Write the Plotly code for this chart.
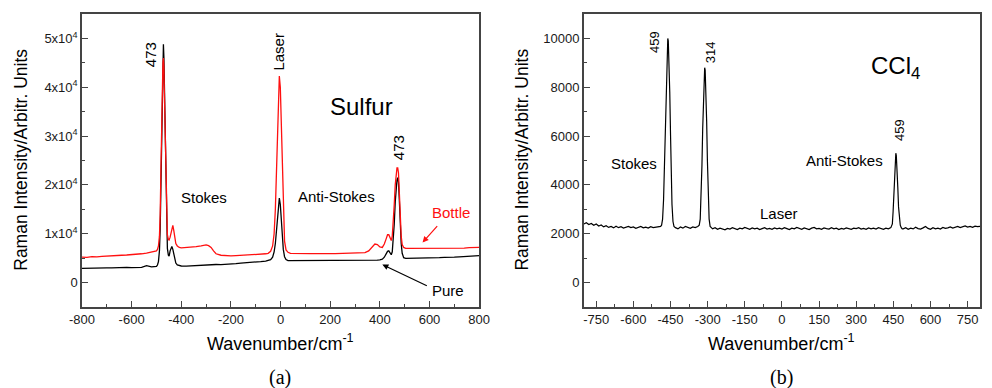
import plotly.graph_objects as go

# ---------------- data: (a) Sulfur ----------------
sulfur_x = (list(range(-800, -499, 20)) +
            [-496, -492, -488, -485, -482, -479, -476, -474, -472, -470, -468, -465, -462,
             -459, -456, -452, -449, -445, -441, -438, -434, -430, -426, -422, -416, -408] +
            [-400, -380, -360, -340, -320, -300, -290, -280, -270, -260, -240, -220, -200,
             -180, -160, -140, -120, -100, -80, -60] +
            [-50, -40, -32, -26, -21, -17, -13, -9, -5, -1, 3, 7, 11, 16, 22, 30] +
            list(range(40, 341, 20)) +
            [355, 370, 380, 390, 400, 410, 418, 425, 431, 436, 441, 446, 450, 454, 458, 462,
             466, 469, 472, 475, 478, 482, 486, 490, 496, 504] +
            list(range(520, 801, 20)))

pure_y = ([2900, 2950, 2880, 3000, 2960, 3020, 3000, 3060, 3030, 3100, 3080, 3150, 3120, 3450, 3200, 3300] +
          [3600, 4300, 6500, 11000, 22000, 33000, 43000, 47500, 48800, 46000, 40000, 30000, 20000,
           11000, 7000, 5600, 5400, 6500, 7200, 7400, 6800, 5600, 4600, 4000, 3600, 3450] +
          [3400, 3350, 3420, 3480, 3450, 3550, 3600, 3580, 3650, 3700, 3680, 3800, 3850,
           3900, 4000, 4050, 4150, 4200, 4300, 4400] +
          [4500, 4700, 5200, 6300, 8000, 10500, 13500, 16500, 17300, 16000, 12500, 9000, 6800, 5300, 4700, 4500] +
          [4500, 4450, 4520, 4480, 4500, 4550, 4470, 4500, 4530, 4480, 4510, 4470, 4520, 4550, 4500, 4530] +
          [4550, 4500, 4550, 4600, 4650, 4800, 5200, 5900, 6400, 6500, 6100, 5700, 6300, 8500, 12000, 16500,
           19500, 21000, 21500, 20500, 17500, 12000, 8000, 6000, 5100, 4950] +
          [4950, 5000, 4980, 5050, 5000, 5080, 5100, 5150, 5120, 5200, 5250, 5300, 5350, 5400, 5500])

bottle_y = ([5200, 5150, 5300, 5250, 5380, 5400, 5500, 5480, 5600, 5650, 5700, 5850, 5900, 6050, 6250, 6500] +
            [6800, 7500, 9500, 14000, 23000, 33000, 41000, 45000, 46000, 44000, 38500, 30000, 21000,
             13500, 9800, 8800, 8700, 9300, 10500, 11300, 11700, 10600, 9000, 8000, 7500, 7200] +
            [7100, 7150, 7300, 7350, 7500, 7700, 7550, 7200, 6500, 5900, 5600, 5500, 5450,
             5500, 5550, 5600, 5650, 5700, 5800, 5900] +
            [6000, 6400, 7500, 10000, 15000, 22000, 30000, 38000, 42300, 40000, 32000, 22000, 13500, 8500, 6700, 6200] +
            [6000, 5950, 5980, 5900, 5950, 5920, 5980, 5900, 5950, 5930, 5970, 5900, 5950, 6000, 6050, 6150] +
            [6500, 7300, 7900, 7800, 7300, 7200, 7900, 8900, 9800, 9800, 9000, 8600, 9500, 12000, 16000, 20000,
             22500, 23500, 23500, 22500, 19000, 13500, 9500, 7800, 7200, 7000] +
            [7000, 7050, 6950, 7000, 6980, 7050, 7000, 7100, 7020, 7050, 7100, 7050, 7150, 7100, 7200])

# ---------------- data: (b) CCl4 ----------------
ccl4_x = (list(range(-800, -489, 10)) +
          [-486, -482, -478, -475, -472, -469, -466, -463, -461, -459, -456, -453, -450, -447, -444, -440, -436] +
          list(range(-430, -339, 10)) +
          [-334, -330, -326, -323, -320, -317, -314, -312, -310, -307, -304, -301, -298, -294, -290, -286] +
          list(range(-280, 441, 10)) +
          [446, 449, 452, 455, 458, 460, 462, 465, 468, 471, 474, 478, 482, 486] +
          list(range(490, 801, 10)))

ccl4_y = ([2400, 2450, 2380, 2420, 2350, 2400, 2320, 2360, 2280, 2330, 2260, 2300, 2240, 2310, 2250, 2290,
           2230, 2270, 2300, 2250, 2280, 2220, 2260, 2300, 2240, 2270, 2230, 2290, 2250, 2260, 2280, 2300] +
          [2350, 2600, 3400, 4600, 6200, 7800, 9100, 9850, 10000, 9900, 9200, 7800, 6100, 4400, 3200, 2500, 2300] +
          [2250, 2200, 2280, 2230, 2300, 2260, 2220, 2280, 2250, 2300] +
          [2350, 2600, 3500, 4800, 6300, 7800, 8600, 8800, 8700, 8000, 6600, 5000, 3600, 2600, 2300, 2250] +
          [2200, 2250, 2180, 2230, 2200, 2160, 2220, 2190, 2250, 2210,
           2170, 2230, 2200, 2260, 2210, 2180, 2240, 2200, 2230, 2170,
           2210, 2250, 2190, 2220, 2180, 2240, 2200, 2230, 2190, 2250,
           2210, 2170, 2230, 2200, 2260, 2210, 2180, 2240, 2200, 2170,
           2230, 2260, 2200, 2220, 2180, 2240, 2210, 2190, 2250, 2200,
           2230, 2170, 2220, 2190, 2240, 2200, 2180, 2230, 2210, 2250,
           2190, 2220, 2180, 2240, 2200, 2230, 2190, 2250, 2210, 2180,
           2230, 2200, 2250] +
          [2400, 2900, 3700, 4500, 5100, 5300, 5200, 4700, 3900, 3100, 2600, 2350, 2250, 2200] +
          [2200, 2250, 2180, 2230, 2200, 2270, 2210, 2190, 2240, 2300, 2220, 2180, 2250, 2200, 2230, 2190,
           2260, 2220, 2240, 2280, 2230, 2260, 2300, 2250, 2280, 2320, 2270, 2300, 2260, 2310, 2290, 2300])

assert len(sulfur_x) == len(pure_y) == len(bottle_y), (len(sulfur_x), len(pure_y), len(bottle_y))
assert len(ccl4_x) == len(ccl4_y), (len(ccl4_x), len(ccl4_y))

# ---------------- tick labels ----------------
sulfur_xticks = [-800, -600, -400, -200, 0, 200, 400, 600, 800]
sulfur_xticktext = ["-800", "-600", "-400", "-200", "0", "200", "400", "600", "800"]
sulfur_yticks = [0, 10000, 20000, 30000, 40000, 50000]
sulfur_yticktext = ["0", "1x10<sup>4</sup>", "2x10<sup>4</sup>", "3x10<sup>4</sup>",
                    "4x10<sup>4</sup>", "5x10<sup>4</sup>"]
ccl4_xticks = [-750, -600, -450, -300, -150, 0, 150, 300, 450, 600, 750]
ccl4_xticktext = ["-750", "-600", "-450", "-300", "-150", "0", "150", "300", "450", "600", "750"]
ccl4_yticks = [0, 2000, 4000, 6000, 8000, 10000]
ccl4_yticktext = ["0", "2000", "4000", "6000", "8000", "10000"]

# ---------------- figure ----------------
W, H = 992, 388
ML, MR, MT, MB = 82, 1, 14, 81
PW, PH = W - ML - MR, H - MT - MB

def px(x):
    return (x - ML) / PW

def py(y):
    return (MT + PH - y) / PH

FONT = "Liberation Sans, Arial, sans-serif"
RED = "#ff1010"

fig = go.Figure()
fig.add_trace(go.Scatter(x=sulfur_x, y=pure_y, mode="lines", name="Pure",
                         line=dict(color="black", width=1.3), xaxis="x", yaxis="y"))
fig.add_trace(go.Scatter(x=sulfur_x, y=bottle_y, mode="lines", name="Bottle",
                         line=dict(color=RED, width=1.3), xaxis="x", yaxis="y"))
fig.add_trace(go.Scatter(x=ccl4_x, y=ccl4_y, mode="lines", name="CCl4",
                         line=dict(color="black", width=1.2), xaxis="x2", yaxis="y2"))

axis_common = dict(showline=True, linecolor="#444", linewidth=1.5, mirror=True,
                   ticks="inside", ticklen=6, tickwidth=1.2, tickcolor="#444",
                   showgrid=False, zeroline=False,
                   tickfont=dict(family=FONT, size=13, color="#1a1a1a"))
minor_common = dict(ticks="inside", ticklen=3, tickcolor="#444", tickwidth=1.2, showgrid=False)

fig.update_layout(
    width=W, height=H,
    margin=dict(l=ML, r=MR, t=MT, b=MB),
    paper_bgcolor="white", plot_bgcolor="white",
    showlegend=False,
    xaxis=dict(domain=[0, px(484)], range=[-800, 800],
               tickmode="array", tickvals=sulfur_xticks, ticktext=sulfur_xticktext,
               minor=dict(dtick=100, tick0=-800, **minor_common),
               anchor="y", **axis_common),
    yaxis=dict(range=[-5000, 55000], tickmode="array",
               tickvals=sulfur_yticks, ticktext=sulfur_yticktext,
               minor=dict(dtick=5000, tick0=0, **minor_common),
               anchor="x", **axis_common),
    xaxis2=dict(domain=[px(590), 1], range=[-800, 800],
                tickmode="array", tickvals=ccl4_xticks, ticktext=ccl4_xticktext,
                minor=dict(dtick=75, tick0=-750, **minor_common),
                anchor="y2", **axis_common),
    yaxis2=dict(range=[-1000, 11000], tickmode="array",
                tickvals=ccl4_yticks, ticktext=ccl4_yticktext,
                minor=dict(dtick=1000, tick0=0, **minor_common),
                anchor="x2", **axis_common),
)

def txt(x, y, s, size=15, angle=0, color="black", family=FONT):
    fig.add_annotation(xref="paper", yref="paper", x=px(x), y=py(y), text=s,
                       showarrow=False, textangle=angle, xanchor="center", yanchor="middle",
                       font=dict(family=family, size=size, color=color))

# axis titles
ytitle = "Raman Intensity/Arbitr. Units"
xtitle = "Wavenumber/cm<sup>-1</sup>"
txt(20, 160, ytitle, size=17.5, angle=-90)
txt(527, 160, ytitle, size=17.5, angle=-90)
txt(283, 342, xtitle, size=18)
txt(790, 342, xtitle, size=18)
txt(282, 377, "(a)", size=20, family="Liberation Serif, Times New Roman, serif")
txt(790, 377, "(b)", size=20, family="Liberation Serif, Times New Roman, serif")

# panel (a) labels
txt(152, 55, "473", size=15, angle=-90)
txt(280, 52, "Laser", size=15, angle=-90)
txt(402, 148, "473", size=15, angle=-90)
txt(365, 107, "Sulfur", size=24)
txt(206, 197, "Stokes", size=15)
txt(340, 196, "Anti-Stokes", size=15)
txt(456, 212, "Bottle", size=15, color=RED)
txt(452, 290, "Pure", size=15)

fig.add_annotation(xref="x", yref="y", x=572, y=8200, ax=16, ay=-18, text="",
                   showarrow=True, arrowhead=2, arrowsize=1, arrowwidth=1.2, arrowcolor=RED)
fig.add_annotation(xref="x", yref="y", x=410, y=3700, ax=46, ay=22, text="",
                   showarrow=True, arrowhead=2, arrowsize=1, arrowwidth=1.2, arrowcolor="black")

# panel (b) labels
txt(662, 42, "459", size=13, angle=-90)
txt(718, 52, "314", size=13, angle=-90)
txt(909, 130, "459", size=13, angle=-90)
txt(905, 67, "CCl<sub>4</sub>", size=24)
txt(641, 163, "Stokes", size=15)
txt(854, 160, "Anti-Stokes", size=15)
txt(788, 214, "Laser", size=15)

fig.write_html("out.html")
